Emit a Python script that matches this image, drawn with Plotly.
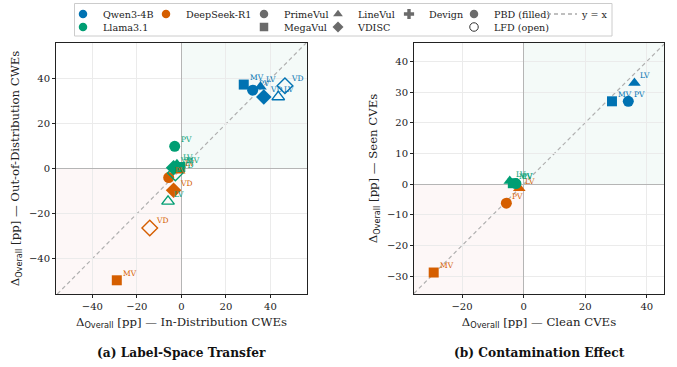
import plotly.graph_objects as go

# ---------------- data ----------------
MODELS = ["Qwen3-4B", "Llama3.1", "DeepSeek-R1"]
MODEL_COLORS = {"Qwen3-4B": "#0072B2", "Llama3.1": "#009E73", "DeepSeek-R1": "#D55E00"}

# Panel (a): Label-Space Transfer
A_model = ["Qwen3-4B"] * 6 + ["Llama3.1"] * 6 + ["DeepSeek-R1"] * 5
A_dataset = ["PV", "MV", "LV", "VD", "LV", "VD",
             "PV", "MV", "LV", "VD", "VD", "LV",
             "PV", "MV", "LV", "VD", "VD"]
A_setting = ["PBD", "PBD", "PBD", "PBD", "LFD", "LFD",
             "PBD", "PBD", "PBD", "PBD", "LFD", "LFD",
             "PBD", "PBD", "PBD", "PBD", "LFD"]
A_in_dist = [32.0, 28.0, 35.5, 37.0, 43.5, 46.5,
             -3.0, -0.5, -2.0, -3.5, -2.7, -6.0,
             -5.7, -29.0, -1.0, -3.5, -14.2]
A_out_dist = [35.0, 37.5, 36.5, 32.0, 32.0, 37.0,
              10.0, 0.8, 2.0, 0.5, -1.8, -14.5,
              -3.9, -49.6, -0.8, -9.5, -26.3]

# Panel (b): Contamination Effect
B_model = ["Qwen3-4B"] * 3 + ["Llama3.1"] * 3 + ["DeepSeek-R1"] * 3
B_dataset = ["PV", "MV", "LV", "PV", "MV", "LV", "PV", "MV", "LV"]
B_setting = ["PBD"] * 9
B_clean = [34.0, 28.7, 36.0, -2.5, -3.5, -4.5, -5.6, -29.2, -1.4]
B_seen = [27.0, 27.0, 33.0, 0.2, 0.3, 1.0, -6.2, -28.8, -1.3]

# tick values
A_TICKS = [-40, -20, 0, 20, 40]
B_XTICKS = [-20, 0, 20, 40]
B_YTICKS = [-30, -20, -10, 0, 10, 20, 30, 40]

# legend entries
LEG_LABELS = ["Qwen3-4B", "Llama3.1", "DeepSeek-R1", "PrimeVul", "MegaVul",
              "LineVul", "VDISC", "Devign", "PBD (filled)", "LFD (open)", "y = x"]

# ---------------- styles ----------------
SYMBOL = {"PV": "circle", "MV": "square", "LV": "triangle-up", "VD": "diamond", "DV": "cross"}
SIZE = {"PV": 11, "MV": 10, "LV": 11, "VD": 12, "DV": 10}
FONT = "DejaVu Serif"
W, H = 677, 367

fig = go.Figure()


def add_panel(models, datasets, settings, xs, ys, xa, ya):
    for m in ["DeepSeek-R1", "Llama3.1", "Qwen3-4B"]:
        for s in ["PBD", "LFD"]:
            idx = [i for i in range(len(xs)) if models[i] == m and settings[i] == s]
            if not idx:
                continue
            col = MODEL_COLORS[m]
            syms = [SYMBOL[datasets[i]] + ("-open" if s == "LFD" else "") for i in idx]
            fig.add_trace(go.Scatter(
                x=[xs[i] for i in idx], y=[ys[i] for i in idx],
                mode="markers", xaxis=xa, yaxis=ya, showlegend=False,
                marker=dict(symbol=syms, size=[SIZE[datasets[i]] for i in idx],
                            color=col, opacity=1,
                            line=dict(color=col, width=1.4 if s == "LFD" else 0)),
                hoverinfo="skip"))
            for i in idx:
                fig.add_annotation(x=xs[i], y=ys[i], xref=xa, yref=ya, text=datasets[i],
                                   showarrow=False, xanchor="left", yanchor="middle",
                                   xshift=4, yshift=7,
                                   font=dict(family=FONT, size=7.5, color=col))


add_panel(A_model, A_dataset, A_setting, A_in_dist, A_out_dist, "x", "y")
add_panel(B_model, B_dataset, B_setting, B_clean, B_seen, "x2", "y2")

# ---------------- legend (one small legend per cell) ----------------
GRAY = "#6b6b6b"
leg_specs = [
    (dict(symbol="circle", color=MODEL_COLORS["Qwen3-4B"]), 101, 0),
    (dict(symbol="circle", color=MODEL_COLORS["Llama3.1"]), 101, 1),
    (dict(symbol="circle", color=MODEL_COLORS["DeepSeek-R1"]), 184, 0),
    (dict(symbol="circle", color=GRAY), 282, 0),
    (dict(symbol="square", color=GRAY), 282, 1),
    (dict(symbol="triangle-up", color=GRAY), 356, 0),
    (dict(symbol="diamond", color=GRAY), 356, 1),
    (dict(symbol="cross", color=GRAY), 427, 0),
    (dict(symbol="circle", color=GRAY), 492, 0),
    (dict(symbol="circle-open", color="#333333", line=dict(color="#333333", width=1)), 492, 1),
    (None, 580, 0),
]
ROW_Y = [14, 27]
for k, (lab, (mk, tx, row)) in enumerate(zip(LEG_LABELS, leg_specs)):
    lname = "legend" if k == 0 else f"legend{k + 1}"
    if mk is None:
        tr = go.Scatter(x=[None], y=[None], mode="lines", name=lab, legend=lname,
                        line=dict(color="#aaaaaa", width=1.3, dash="4px,3px"))
    else:
        tr = go.Scatter(x=[None], y=[None], mode="markers", name=lab, legend=lname,
                        marker=dict(size=8.5, **mk))
    fig.add_trace(tr)
    fig.layout[lname] = dict(x=(tx - 38) / W, y=1 - ROW_Y[row] / H, xanchor="left", yanchor="middle",
                             bgcolor="rgba(0,0,0,0)", borderwidth=0,
                             font=dict(family=FONT, size=9.6, color="#222222"))

# legend frame
fig.add_shape(type="rect", xref="paper", yref="paper",
              x0=74.5 / W, x1=612 / W, y0=1 - 36 / H, y1=1 - 3.5 / H,
              line=dict(color="#cccccc", width=1), fillcolor="white", layer="below")

# ---------------- axes ----------------
axis_common = dict(showline=True, mirror=True, linecolor="#222222", linewidth=1,
                   ticks="outside", ticklen=3, tickcolor="#222222",
                   showgrid=True, gridcolor="#ebebeb", gridwidth=0.8,
                   zeroline=True, zerolinecolor="#b5b5b5", zerolinewidth=1,
                   automargin=False,
                   tickfont=dict(family=FONT, size=10, color="#222222"),
                   title_font=dict(family=FONT, size=11.7, color="#222222"))
SUB = "Δ<sub><span style='font-family:DejaVu Sans'>Overall</span></sub> [pp] — "
XD1 = [56 / W, 307 / W]
XD2 = [414 / W, 664 / W]
YD = [1 - 294 / H, 1 - 43 / H]
A_RANGE = [-56.3, 56.4]
A_YRANGE = [-55.7, 56.0]
B_XRANGE = [-35.6, 45.6]
B_YRANGE = [-35.8, 46.0]

fig.update_layout(
    width=W, height=H, margin=dict(l=0, r=0, t=0, b=0, autoexpand=False),
    paper_bgcolor="white", plot_bgcolor="white",
    xaxis=dict(domain=XD1, anchor="y", range=A_RANGE, tickvals=A_TICKS,
               title=dict(text=SUB + "In-Distribution CWEs", standoff=6), **axis_common),
    yaxis=dict(domain=YD, anchor="x", range=A_YRANGE, tickvals=A_TICKS,
               title=dict(text=SUB + "Out-of-Distribution CWEs", standoff=6), **axis_common),
    xaxis2=dict(domain=XD2, anchor="y2", range=B_XRANGE, tickvals=B_XTICKS,
                title=dict(text=SUB + "Clean CVEs", standoff=6), **axis_common),
    yaxis2=dict(domain=YD, anchor="x2", range=B_YRANGE, tickvals=B_YTICKS,
                title=dict(text=SUB + "Seen CVEs", standoff=6), **axis_common),
)

# quadrant shading, diagonal
for xa, ya, xr, yr in [("x", "y", A_RANGE, A_YRANGE), ("x2", "y2", B_XRANGE, B_YRANGE)]:
    fig.add_shape(type="rect", xref=xa, yref=ya, x0=0, x1=xr[1], y0=0, y1=yr[1],
                  fillcolor="rgba(0,150,100,0.045)", line_width=0, layer="below")
    fig.add_shape(type="rect", xref=xa, yref=ya, x0=xr[0], x1=0, y0=yr[0], y1=0,
                  fillcolor="rgba(200,60,60,0.045)", line_width=0, layer="below")
    lo, hi = max(xr[0], yr[0]), min(xr[1], yr[1])
    fig.add_shape(type="line", xref=xa, yref=ya, x0=lo, y0=lo, x1=hi, y1=hi,
                  line=dict(color="#b0b0b0", width=1.2, dash="4px,3px"), layer="below")

# subplot titles
fig.add_annotation(x=(XD1[0] + XD1[1]) / 2, y=1 - 353 / H, xref="paper", yref="paper",
                   xanchor="center", yanchor="middle",
                   text="<b>(a) Label-Space Transfer</b>", showarrow=False,
                   font=dict(family=FONT, size=12.2, color="#111111"))
fig.add_annotation(x=(XD2[0] + XD2[1]) / 2, y=1 - 353 / H, xref="paper", yref="paper",
                   xanchor="center", yanchor="middle",
                   text="<b>(b) Contamination Effect</b>", showarrow=False,
                   font=dict(family=FONT, size=12.2, color="#111111"))

fig.write_html("out.html", config={"displayModeBar": False},
               post_script="document.body.style.margin='0';document.body.style.padding='0';")
